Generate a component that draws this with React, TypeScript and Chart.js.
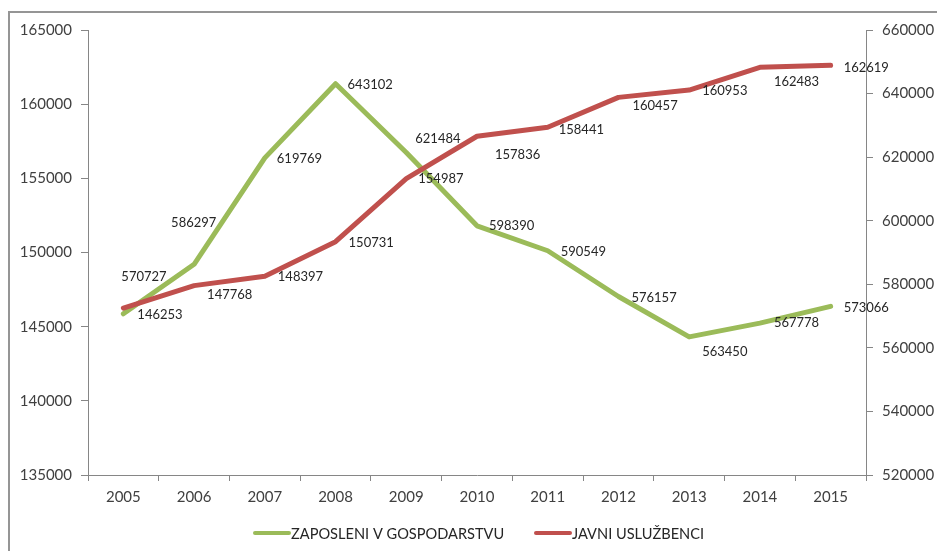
import React, { useEffect, useRef } from "react";
import { Chart, registerables } from "chart.js";

Chart.register(...registerables);

const years = ["2005", "2006", "2007", "2008", "2009", "2010", "2011", "2012", "2013", "2014", "2015"];
const zaposleniGospodarstvo = [570727, 586297, 619769, 643102, 621484, 598390, 590549, 576157, 563450, 567778, 573066];
const javniUsluzbenci = [146253, 147768, 148397, 150731, 154987, 157836, 158441, 160457, 160953, 162483, 162619];
const seriesNames = ["ZAPOSLENI V GOSPODARSTVU", "JAVNI USLUŽBENCI"];
const leftAxis = { min: 135000, max: 165000, step: 5000 };
const rightAxis = { min: 520000, max: 660000, step: 20000 };

// label placement (left-edge offset, vertical offset) relative to each point
const greenLabelOffsets: [number, number][] = [
  [-2, -37], [-23, -41], [12, 1], [12, 1], [9, -14], [12, 0], [13, 1], [13, 1], [13, 15], [14, 0], [13, 1],
];
const redLabelOffsets: [number, number][] = [
  [14, 7], [13, 9], [13, 1], [13, 1], [12, 0], [18, 19], [11, 3], [14, 8], [13, 1], [14, 14], [13, 2],
];

const GREEN = "#9BBB59";
const RED = "#C0504D";
const AXIS = "#868686";
const FONT = "Lato, 'Open Sans', sans-serif";

export default function App() {
  const ref = useRef<HTMLCanvasElement | null>(null);

  useEffect(() => {
    if (!ref.current) return;

    const framePlugin = {
      id: "frame",
      beforeDraw(chart: any) {
        const ctx = chart.ctx;
        ctx.save();
        ctx.fillStyle = "#ffffff";
        ctx.fillRect(0, 0, chart.width, chart.height);
        ctx.strokeStyle = "#959595";
        ctx.lineWidth = 2;
        ctx.beginPath();
        ctx.moveTo(9, chart.height + 2);
        ctx.lineTo(9, 12);
        ctx.lineTo(chart.width + 2, 12);
        ctx.stroke();
        ctx.restore();
      },
    };

    const labelsPlugin = {
      id: "pointLabels",
      afterDatasetsDraw(chart: any) {
        const ctx = chart.ctx;
        ctx.save();
        ctx.font = `13px ${FONT}`;
        ctx.fillStyle = "#262626";
        ctx.textAlign = "left";
        ctx.textBaseline = "middle";
        chart.data.datasets.forEach((ds: any, di: number) => {
          const meta = chart.getDatasetMeta(di);
          const offs = ds.labelOffsets as [number, number][];
          meta.data.forEach((pt: any, i: number) => {
            const v = ds.data[i];
            const [dx, dy] = offs[i];
            ctx.fillText(String(v), pt.x + dx, pt.y + dy);
          });
        });
        ctx.restore();
      },
    };

    const legendPlugin = {
      id: "customLegend",
      afterDraw(chart: any) {
        const ctx = chart.ctx;
        ctx.save();
        ctx.font = `14.6px ${FONT}`;
        ctx.textBaseline = "middle";
        ctx.textAlign = "left";
        const y = 533;
        const items = [
          { name: seriesNames[0], color: GREEN, x: 253 },
          { name: seriesNames[1], color: RED, x: 534 },
        ];
        items.forEach((it) => {
          ctx.strokeStyle = it.color;
          ctx.lineWidth = 4;
          ctx.lineCap = "round";
          ctx.beginPath();
          ctx.moveTo(it.x + 2, y);
          ctx.lineTo(it.x + 36, y);
          ctx.stroke();
          ctx.fillStyle = "#262626";
          ctx.fillText(it.name, it.x + 38, y + 1);
        });
        ctx.restore();
      },
    };

    const tickFont = { family: FONT, size: 15 };

    const chart = new Chart(ref.current, {
      type: "line",
      data: {
        labels: years,
        datasets: [
          {
            label: seriesNames[1],
            data: javniUsluzbenci,
            yAxisID: "y",
            borderColor: RED,
            backgroundColor: RED,
            borderWidth: 5,
            pointRadius: 0,
            tension: 0,
            borderCapStyle: "round",
            borderJoinStyle: "round",
            labelOffsets: redLabelOffsets,
          } as any,
          {
            label: seriesNames[0],
            data: zaposleniGospodarstvo,
            yAxisID: "y1",
            borderColor: GREEN,
            backgroundColor: GREEN,
            borderWidth: 5,
            pointRadius: 0,
            tension: 0,
            borderCapStyle: "round",
            borderJoinStyle: "round",
            labelOffsets: greenLabelOffsets,
          } as any,
        ],
      },
      options: {
        responsive: false,
        animation: false,
        layout: { padding: { top: 30, left: 0, right: 0, bottom: 36 } },
        plugins: {
          legend: { display: false },
          tooltip: { enabled: false },
        },
        scales: {
          x: {
            offset: true,
            grid: { display: true, drawOnChartArea: false, offset: true, tickLength: 6, color: AXIS },
            border: { color: AXIS },
            ticks: { font: tickFont, color: "#404040", padding: 7, maxRotation: 0 },
            afterFit: (s: any) => {
              s.height = 40;
            },
          },
          y: {
            position: "left",
            min: leftAxis.min,
            max: leftAxis.max,
            grid: { display: true, drawOnChartArea: false, tickLength: 7, color: AXIS },
            border: { color: AXIS },
            ticks: { stepSize: leftAxis.step, font: tickFont, color: "#404040", padding: 9, callback: (v: any) => String(v) },
            afterFit: (s: any) => {
              s.width = 88;
            },
          },
          y1: {
            position: "right",
            min: rightAxis.min,
            max: rightAxis.max,
            grid: { display: true, drawOnChartArea: false, tickLength: 7, color: AXIS },
            border: { color: AXIS },
            ticks: { stepSize: rightAxis.step, font: tickFont, color: "#404040", padding: 9, callback: (v: any) => String(v) },
            afterFit: (s: any) => {
              s.width = 71;
            },
          },
        },
      },
      plugins: [framePlugin, labelsPlugin, legendPlugin],
    });

    return () => chart.destroy();
  }, []);

  return (
    <div style={{ position: "fixed", left: 0, top: 0, width: 937, height: 551, overflow: "hidden" }}>
      <canvas ref={ref} width={937} height={551} style={{ width: 937, height: 551, display: "block" }} />
    </div>
  );
}
